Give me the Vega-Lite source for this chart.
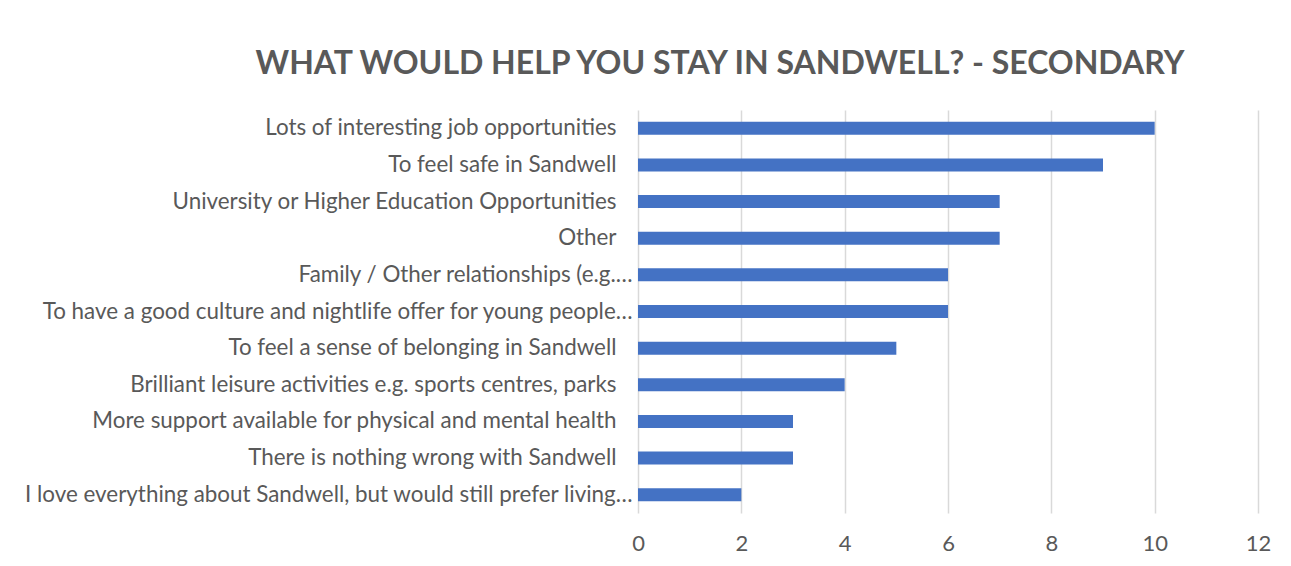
{
  "$schema": "https://vega.github.io/schema/vega-lite/v6.json",
  "autosize": {"type": "none"},
  "width": 620,
  "height": 403,
  "padding": {"left": 638, "top": 110, "right": 33, "bottom": 53},
  "background": "white",
  "title": {
    "text": "WHAT WOULD HELP YOU STAY IN SANDWELL? - SECONDARY",
    "anchor": "middle",
    "frame": "group",
    "dx": -228,
    "offset": 29,
    "font": "Lato",
    "fontSize": 32,
    "fontWeight": "bold",
    "color": "#595959"
  },
  "data": {
    "values": [
      {"reason": "Lots of interesting job opportunities", "count": 10},
      {"reason": "To feel safe in Sandwell", "count": 9},
      {"reason": "University or Higher Education Opportunities", "count": 7},
      {"reason": "Other", "count": 7},
      {"reason": "Family / Other relationships (e.g.…", "count": 6},
      {"reason": "To have a good culture and nightlife offer for young people…", "count": 6},
      {"reason": "To feel a sense of belonging in Sandwell", "count": 5},
      {"reason": "Brilliant leisure activities e.g. sports centres, parks", "count": 4},
      {"reason": "More support available for physical and mental health", "count": 3},
      {"reason": "There is nothing wrong with Sandwell", "count": 3},
      {"reason": "I love everything about Sandwell, but would still prefer living…", "count": 2}
    ]
  },
  "mark": {"type": "bar", "color": "#4472C4", "size": 13},
  "encoding": {
    "y": {
      "field": "reason",
      "type": "nominal",
      "sort": null,
      "scale": {"paddingInner": 0, "paddingOuter": 0},
      "axis": {
        "title": null,
        "domain": false,
        "ticks": false,
        "grid": false,
        "labelFont": "Lato",
        "labelFontSize": 22.4,
        "labelColor": "#595959",
        "labelPadding": {"condition": {"test": "indexof(datum.value, '…') >= 0", "value": 6}, "value": 22},
        "labelLimit": 0
      }
    },
    "x": {
      "field": "count",
      "type": "quantitative",
      "scale": {"domain": [0, 12], "nice": false},
      "axis": {
        "title": null,
        "values": [0, 2, 4, 6, 8, 10, 12],
        "domain": false,
        "ticks": false,
        "grid": true,
        "gridColor": "#D9D9D9",
        "gridWidth": 1.5,
        "labelFont": "Lato",
        "labelFontSize": 22,
        "labelColor": "#595959",
        "labelPadding": 20,
        "labelFlush": false
      }
    }
  },
  "config": {"view": {"stroke": null}}
}
